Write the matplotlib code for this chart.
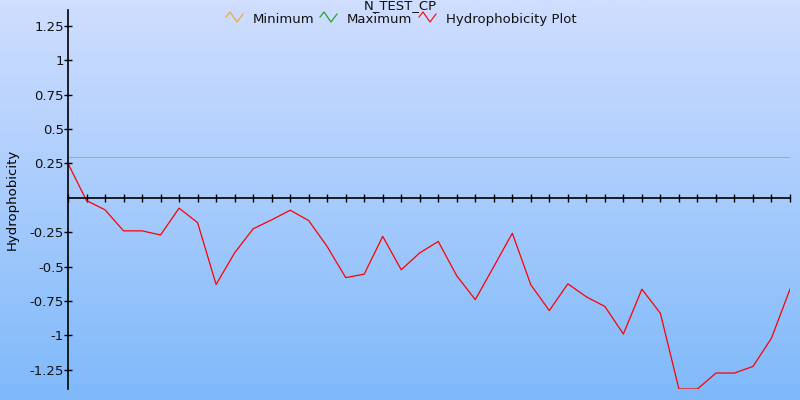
import numpy as np
import matplotlib
matplotlib.use("Agg")
import matplotlib.pyplot as plt
from matplotlib.lines import Line2D

# hydrophobicity values, one per residue window
hydro = [0.25, -0.02, -0.087, -0.24, -0.24, -0.27, -0.075, -0.18, -0.63, -0.40,
         -0.225, -0.16, -0.09, -0.165, -0.354, -0.58, -0.555, -0.28, -0.523, -0.40,
         -0.317, -0.567, -0.74, -0.50, -0.257, -0.632, -0.82, -0.625, -0.72, -0.79,
         -0.99, -0.664, -0.84, -1.39, -1.39, -1.274, -1.274, -1.226, -1.02, -0.664]
minimum = 0.30
ytick_vals = [1.25, 1, 0.75, 0.5, 0.25, -0.25, -0.5, -0.75, -1, -1.25]
ytick_labels = ['1.25', '1', '0.75', '0.5', '0.25', '-0.25', '-0.5', '-0.75', '-1', '-1.25']
title = 'N_TEST_CP'
legend_names = ['Minimum', 'Maximum', 'Hydrophobicity Plot']
legend_colors = ['#f5a623', '#1a9a1a', '#ff0000']

x = np.arange(len(hydro))

plt.rcParams['font.family'] = ['DejaVu Sans']
fig = plt.figure(figsize=(8, 4), dpi=100)

## gradient background
bg = fig.add_axes([0, 0, 1, 1], zorder=0)
top = np.array([208, 222, 255]) / 255
bot = np.array([127, 185, 250]) / 255
t = np.linspace(0, 1, 256)[:, None]
grad = (top * (1 - t) + bot * t)[:, None, :]
bg.imshow(grad, aspect='auto', extent=[0, 1, 0, 1])
bg.axis('off')

## main axes
ax = fig.add_axes([68 / 800, 1 - 389 / 400, (790 - 68) / 800, (389 - 10) / 400], zorder=1)
ax.patch.set_alpha(0)
ax.plot([x[0], x[-1]], [minimum, minimum], color='#f0a020', lw=0.75, snap=True)
ax.plot(x, hydro, color=legend_colors[2], lw=0.9)

ax.set_xlim(x[0], x[-1])
ax.set_ylim(min(hydro), 1.366)
ax.spines['top'].set_visible(False)
ax.spines['right'].set_visible(False)
ax.spines['bottom'].set_position(('data', 0))
ax.spines['bottom'].set_linewidth(1.2)
ax.spines['left'].set_linewidth(1.2)
ax.set_xticks(x)
ax.set_xticklabels([])
ax.tick_params(axis='x', direction='inout', length=6, width=1.0)
ax.set_yticks(ytick_vals)
ax.set_yticklabels(ytick_labels)
ax.tick_params(axis='y', direction='inout', length=6, width=1.0, pad=0,
               labelsize=9.5, labelcolor='#111111')
ax.set_ylabel('Hydrophobicity', fontsize=9.5, labelpad=8)

## title and legend
fig.text(0.5, 1 - 9.5 / 400, title, ha='center', va='baseline', fontsize=9.5, color='#111111')
icon_x = [226, 320, 419]
text_x = [253, 347, 446]
zig_dx = [0, 4, 11, 17]
zig_dy = [17, 12, 22, 14]
for name, col, ix, tx in zip(legend_names, legend_colors, icon_x, text_x):
    fig.add_artist(Line2D([(ix + d) / 800 for d in zig_dx],
                          [1 - d / 400 for d in zig_dy],
                          color=col, lw=0.8, transform=fig.transFigure))
    fig.text(tx / 800, 1 - 23 / 400, name, ha='left', va='baseline',
             fontsize=9.5, color='#111111')

fig.savefig('out.png', dpi=100)
